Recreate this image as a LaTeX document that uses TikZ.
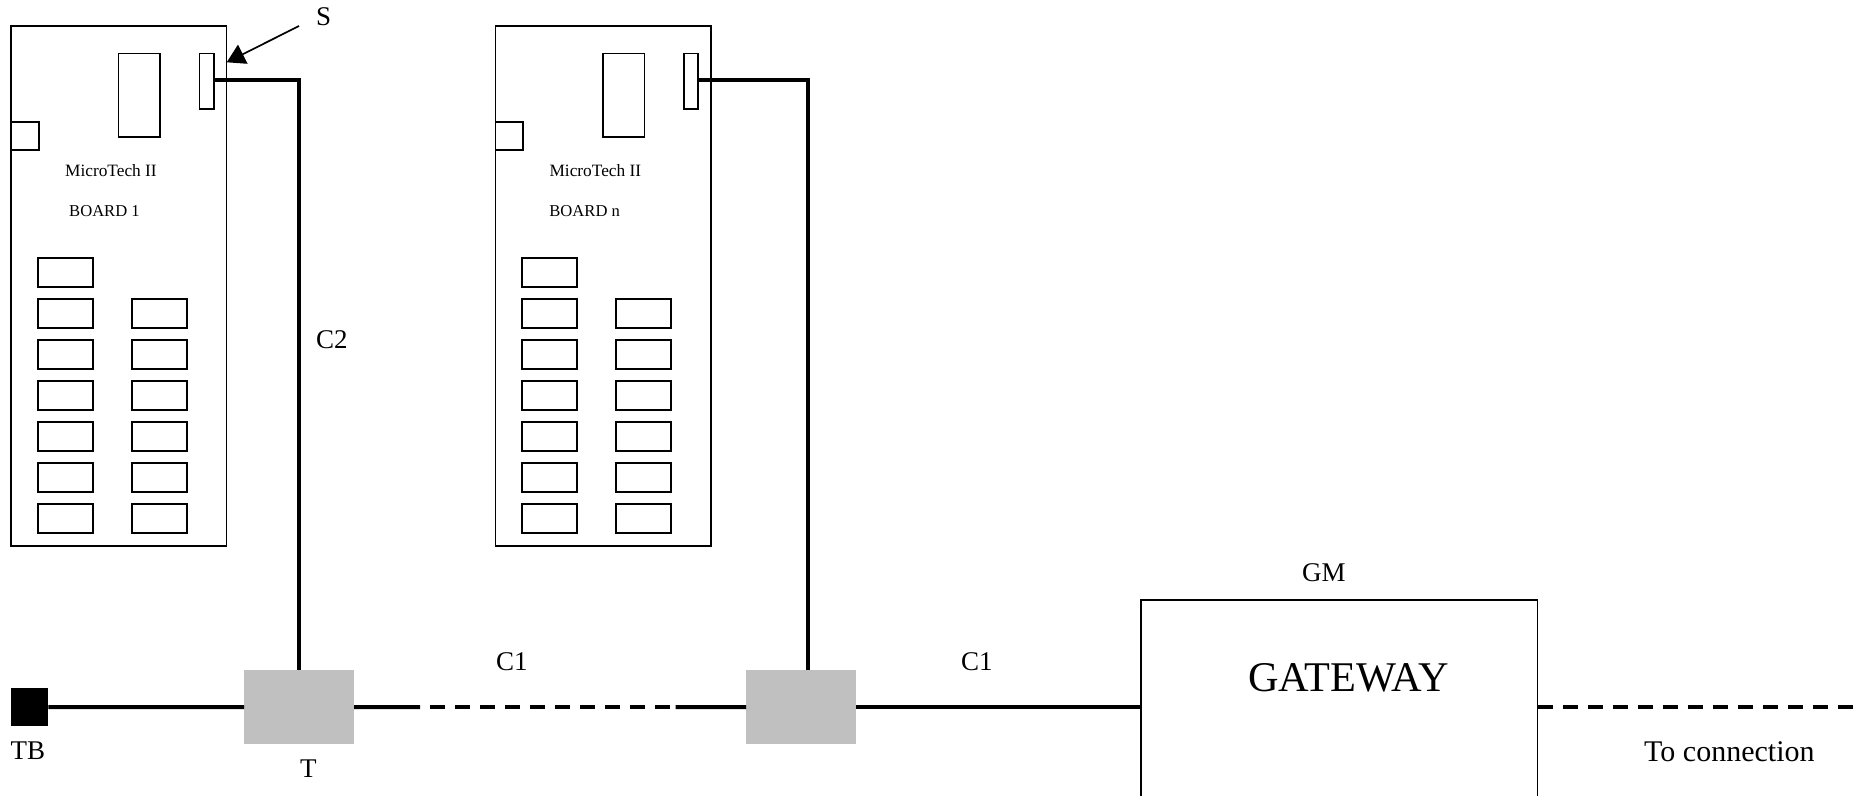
\documentclass[tikz,border=0pt]{standalone}
\usepackage{fontspec}
\usepackage{xcolor}
\setmainfont{Liberation Serif}
\usetikzlibrary{arrows.meta, positioning}
\definecolor{tapgray}{RGB}{192,192,192}
\newcommand{\labfont}{\fontsize{27}{30}\selectfont}
\newcommand{\boardfont}{\fontsize{17.3}{20}\selectfont}

\begin{document}
\begin{tikzpicture}[x=1pt, y=-1pt,
      part/.style={draw=black, line width=1.7pt, inner sep=0pt, outer sep=0pt},
      chip/.style={part, minimum width=55pt, minimum height=28.4pt},
      tap/.style={fill=tapgray, inner sep=0pt, outer sep=0pt, minimum width=110pt, minimum height=74.5pt},
      lab/.style={anchor=base west, inner sep=0pt, font=\labfont},
      boardlab/.style={anchor=base west, inner sep=0pt, font=\boardfont},
      wire/.style={draw=black, line width=4pt},
      link/.style={wire, dash pattern=on 15pt off 10pt},
      ar/.style={-{Triangle[length=18pt, width=21pt]}, draw=black, line width=1.7pt}]
    \useasboundingbox (0,0) rectangle (1854,795);
    % the two boards
    \foreach \b/\dx/\num/\numx in {a/0/1/69, n/484.4/n/64.8} {
      \node[part, minimum width=215.5pt, minimum height=520pt] (\b) at ({118.8+\dx},286) {};
      \node[part, minimum width=41.5pt, minimum height=83.2pt] (\b-cpu) at ({139.2+\dx},95.1) {};
      \node[part, minimum width=14.2pt, minimum height=55.6pt] (\b-s) at ({206.6+\dx},81.2) {};
      \node[part, minimum width=27.7pt, minimum height=28.4pt] (\b-port) at ({24.9+\dx},135.9) {};
      \node[boardlab] (\b-name) at ({65+\dx},176.5) {MicroTech II};
      \node[boardlab, font=\fontsize{16.6}{20}\selectfont] (\b-num) at ({\numx+\dx},216) {BOARD \num};
      \foreach \r in {1,...,7}
        \node[chip] (\b-l\r) at ({65.2+\dx},{272.5+41*(\r-1)}) {};
      \foreach \r in {2,...,7}
        \node[chip, right=39pt of \b-l\r] (\b-r\r) {};
    }
    % bus
    \node[fill=black, inner sep=0pt, outer sep=0pt, minimum width=37.8pt, minimum height=38pt] (tb) at (29.4,707) {};
    \node[tap] (t1) at (299,707.2) {};
    \node[tap] (t2) at (801,707.2) {};
    \node[part, anchor=north west, minimum width=396.5pt, minimum height=220pt] (gw) at (1141,600) {};
    \coordinate (d1) at (420,707);
    \coordinate (d2) at (430,707);
    \coordinate (d3) at (672,707);
    \coordinate (d4) at (675.6,707);
    \coordinate (out) at (1854,707);
    \draw[wire] (tb) -- (t1);
    \draw[wire] (t1) -- (d1);
    \draw[link] (d2) -- (d3);
    \draw[wire] (d4) -- (t2);
    \draw[wire] (t2) -- (gw.west |- t2);
    \draw[link] (gw.east |- out) -- (out);
    \draw[wire] ([yshift=1pt]a-s.east) -| (t1.north);
    \draw[wire] ([yshift=1pt]n-s.east) -| ([xshift=7pt]t2.north);
    % labels
    \node[lab] (s) at (316,25) {S};
    \coordinate (stail) at (299,26);
    \coordinate (stip) at (226.7,62.3);
    \draw[ar] (stail) -- (stip);
    \node[lab] (c2) at (316,348.5) {C2};
    \node[lab] (c1a) at (496,670) {C1};
    \node[lab] (c1b) at (961,670) {C1};
    \node[lab] (tblab) at (10.5,759) {TB};
    \node[lab] (tlab) at (300,777) {T};
    \node[lab] (gm) at (1302,581) {GM};
    \node[anchor=base west, inner sep=0pt, font=\fontsize{42.3}{46}\selectfont] (gwlab) at (1248,691) {GATEWAY};
    \node[anchor=base west, inner sep=0pt, font=\fontsize{30}{33}\selectfont] (conn) at (1644,761) {To connection};
\end{tikzpicture}
\end{document}
